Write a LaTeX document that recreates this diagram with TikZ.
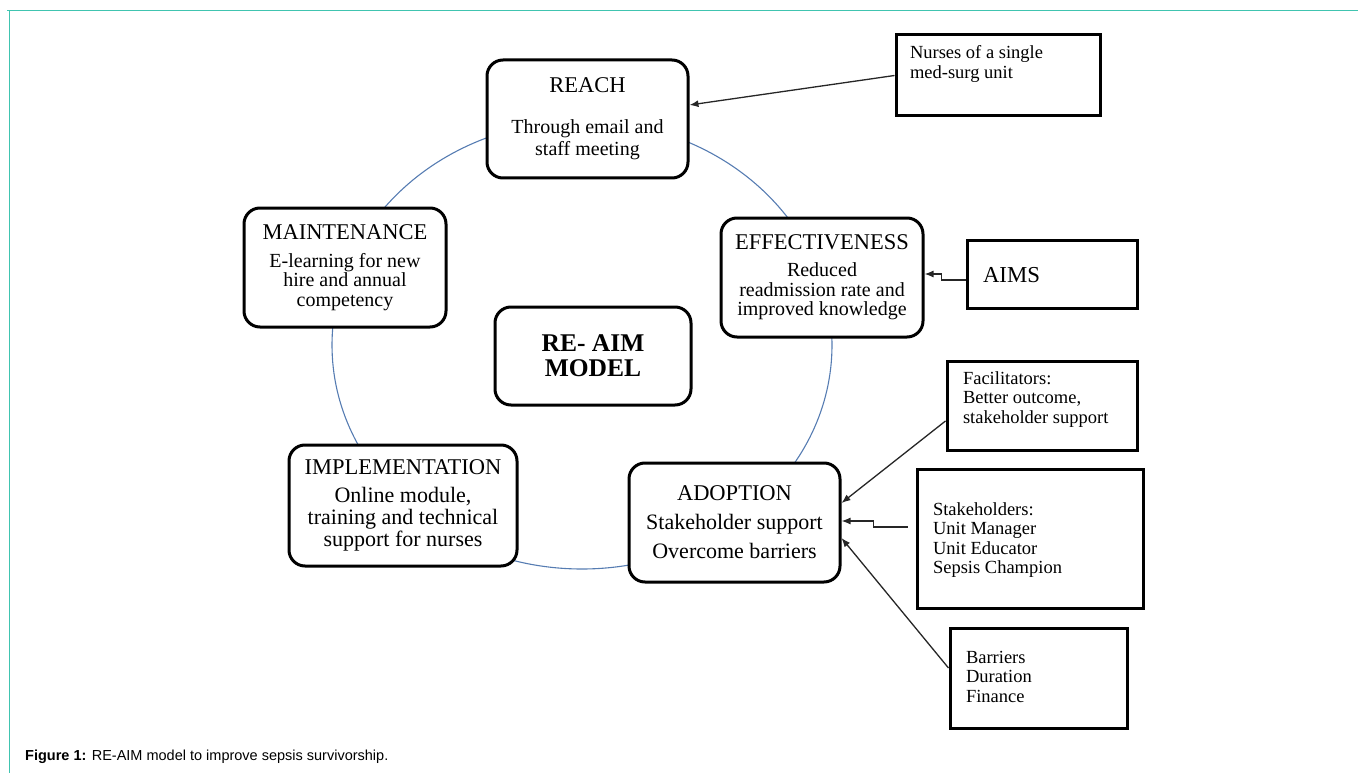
\documentclass[tikz,border=0pt]{standalone}
\usepackage{fontspec}
\setmainfont{Liberation Serif}
\newfontfamily\capfont{Liberation Sans}
\usetikzlibrary{positioning,arrows.meta}

\definecolor{ringblue}{RGB}{86,124,178}
\definecolor{frameteal}{RGB}{64,196,176}

\newcommand{\phasehead}[1]{{\fontsize{22.5}{22.5}\selectfont #1}}

\tikzset{
  phase/.style={draw, line width=3pt, rounded corners=16pt, fill=white, align=center, inner sep=0pt},
  sidebox/.style={draw, line width=3pt, fill=white, inner sep=0pt, font=\fontsize{18.5}{19.5}\selectfont},
  feed/.style={-{Latex[length=9pt,width=7pt]}, line width=1.3pt, draw=black!85},
  ring/.style={draw=ringblue, line width=1.1pt}
}

\begin{document}
\begin{tikzpicture}[x=1pt, y=-1pt, on grid]
\useasboundingbox (0,0) rectangle (1358,773);
% frame of the figure
\draw[frameteal, line width=1.5pt] (7,10.7) -- (1358,10.7);
\draw[frameteal, line width=1pt] (9,10.7) -- (9,773);
% the cycle behind the boxes
\draw[ring] (582,345) ellipse [x radius=250pt, y radius=224pt];

\node[phase, minimum width=201pt, minimum height=118pt, font=\fontsize{20}{22}\selectfont] (reach) at (587.5,119)
  {\phasehead{REACH}\\[19pt]Through email and\\staff meeting};
\node[phase, minimum width=202pt, minimum height=119pt, font=\fontsize{20}{19.5}\selectfont] (effect) [below right=158.5pt and 234.5pt of reach]
  {\phasehead{EFFECTIVENESS}\\[7.5pt]Reduced\\readmission rate and\\improved knowledge};
\node[phase, minimum width=202pt, minimum height=119pt, font=\fontsize{20}{19.5}\selectfont] (maint) [below left=148.5pt and 242.5pt of reach]
  {\phasehead{MAINTENANCE}\\[8.5pt]E-learning for new\\hire and annual\\competency};
\node[phase, minimum width=196pt, minimum height=98pt, font=\bfseries\fontsize{25.5}{25}\selectfont] (model) [below right=237pt and 5.5pt of reach]
  {RE- AIM\\MODEL};
\node[phase, minimum width=228pt, minimum height=121pt, font=\fontsize{22}{22}\selectfont] (impl) [below right=238pt and 58pt of maint]
  {\phasehead{IMPLEMENTATION}\\[6pt]Online module,\\training and technical\\support for nurses};
\node[phase, minimum width=211pt, minimum height=119pt, font=\fontsize{22}{29}\selectfont] (adopt) [below left=245pt and 87.5pt of effect]
  {\phasehead{ADOPTION}\\Stakeholder support\\Overcome barriers};

% inputs to the phases
\node[sidebox] (nurses) [above right=43.5pt and 410.5pt of reach]
  {\parbox[c][81pt][t]{204pt}{\leftskip=14pt\vspace{10.35pt}\strut Nurses of a single\\med-surg unit}};
\node[sidebox, font=\fontsize{22.8}{24}\selectfont] (aims) [above right=3.5pt and 230pt of effect]
  {\parbox[c][68pt][t]{170pt}{\leftskip=16pt\vspace{25.2pt}\strut AIMS}};
\node[sidebox] (facil) [above right=117pt and 307.5pt of adopt]
  {\parbox[c][89pt][t]{190pt}{\leftskip=16pt\vspace{9.35pt}\strut Facilitators:\\Better outcome,\\stakeholder support}};
\node[sidebox] (stake) [below right=16pt and 295.5pt of adopt]
  {\parbox[c][139pt][t]{226pt}{\leftskip=16pt\vspace{32.35pt}\strut Stakeholders:\\Unit Manager\\Unit Educator\\Sepsis Champion}};
\node[sidebox] (barr) [below right=139.5pt and 8.5pt of stake]
  {\parbox[c][100pt][t]{177pt}{\leftskip=16pt\vspace{21.35pt}\strut Barriers\\Duration\\Finance}};

\draw[feed] (nurses.west) -- ([yshift=14pt]reach.east);
\draw[feed] ([yshift=-6pt]aims.west) -- ++(-24,0) |- ([yshift=3.5pt]effect.east);
\draw[feed] ([yshift=-15.5pt]facil.west) -- ([yshift=19.5pt]adopt.east);
\draw[feed] ([xshift=-8pt,yshift=11.5pt]stake.west) -- ++(-34,0) |- ([yshift=1.5pt]adopt.east);
\draw[feed] ([yshift=10pt]barr.west) -- ([yshift=-15.5pt]adopt.east);

\node[anchor=base west, inner sep=0pt, font=\capfont\fontsize{14.5}{17}\selectfont] (caption) at (25,760.7)
  {\textbf{Figure 1:} RE-AIM model to improve sepsis survivorship.};
\end{tikzpicture}
\end{document}
